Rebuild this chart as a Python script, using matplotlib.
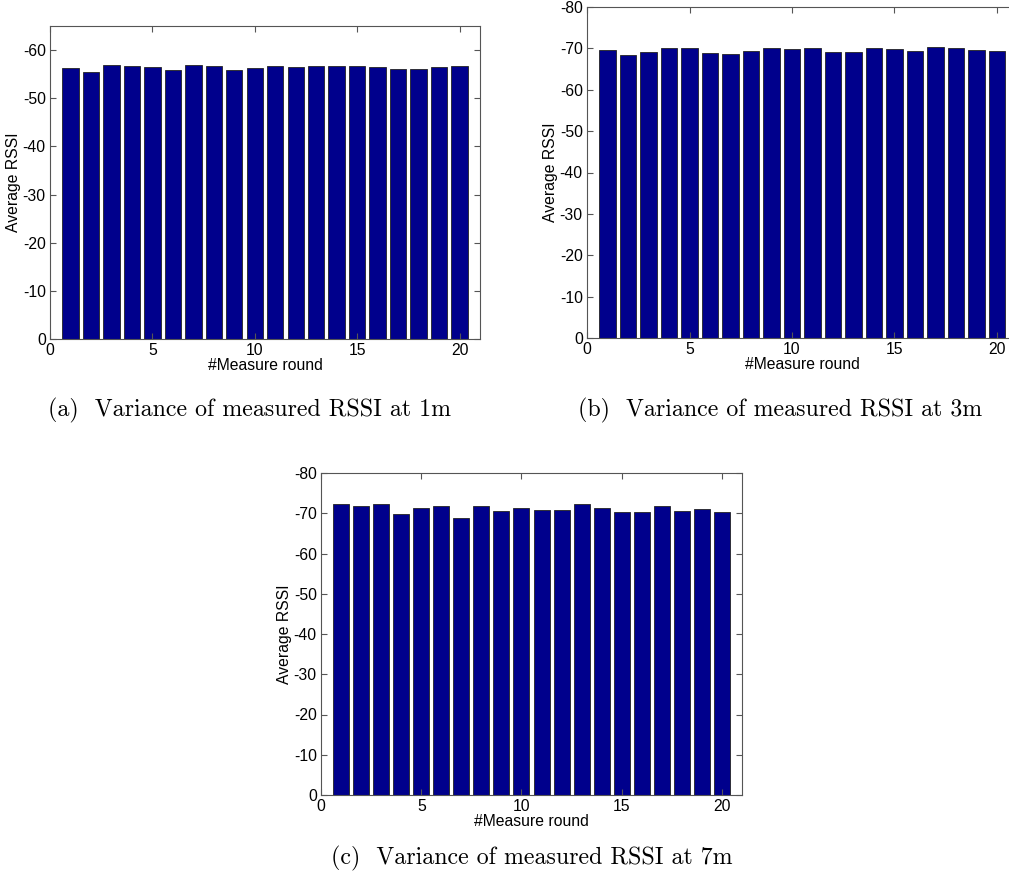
"""Average RSSI per measure round at 1m, 3m and 7m (bar charts)."""

import matplotlib
matplotlib.use("Agg")
from matplotlib import pyplot as plt

rounds = list(range(1, 21))

rssi_1m = [-56.25, -55.35, -57.0, -56.7, -56.45, -55.8, -56.9, -56.7, -55.8, -56.25,
           -56.6, -56.45, -56.7, -56.7, -56.6, -56.45, -56.0, -56.1, -56.45, -56.7]
rssi_3m = [-69.7, -68.5, -69.1, -70.0, -70.0, -68.8, -68.6, -69.3, -70.0, -69.8,
           -70.0, -69.1, -69.1, -70.0, -69.8, -69.3, -70.3, -70.0, -69.7, -69.3]
rssi_7m = [-72.3, -71.8, -72.3, -69.75, -71.2, -71.8, -68.9, -71.8, -70.6, -71.3,
           -70.8, -70.8, -72.3, -71.2, -70.4, -70.25, -71.8, -70.6, -71.0, -70.4]

captions = ["(a)  Variance of measured RSSI at 1m",
            "(b)  Variance of measured RSSI at 3m",
            "(c)  Variance of measured RSSI at 7m"]

plt.rcParams["axes.unicode_minus"] = False
plt.rcParams["font.family"] = ["Liberation Sans", "DejaVu Sans"]

BAR_COLOR = "#00008c"
SPINE_COLOR = "#555555"
FS = 11.3


def draw_panel(fig, rect, values, ymin, yticks):
    ax = fig.add_axes(rect)
    ax.bar(rounds, values, width=0.8, color=BAR_COLOR,
           edgecolor="#222222", linewidth=0.6)
    ax.set_xlim(0, 21)
    ax.set_ylim(0, ymin)
    ax.set_xticks([0, 5, 10, 15, 20])
    ax.set_yticks(yticks)
    ax.tick_params(direction="in", top=True, right=True, length=4,
                   labelsize=FS, color=SPINE_COLOR, width=0.8, pad=3)
    for spine in ax.spines.values():
        spine.set_color(SPINE_COLOR)
        spine.set_linewidth(0.8)
    ax.set_xlabel("#Measure round", fontsize=FS, labelpad=0)
    ax.set_ylabel("Average RSSI", fontsize=FS, labelpad=1)
    return ax


def main():
    fig = plt.figure(figsize=(10.09, 8.86), dpi=100)
    W, H = 1009.0, 886.0

    draw_panel(fig, [50 / W, (H - 339) / H, 430 / W, 313 / H],
               rssi_1m, -65, list(range(0, -61, -10)))
    draw_panel(fig, [587 / W, (H - 338) / H, 430.5 / W, 331 / H],
               rssi_3m, -80, list(range(0, -81, -10)))
    draw_panel(fig, [321 / W, (H - 795) / H, 421 / W, 322 / H],
               rssi_7m, -80, list(range(0, -81, -10)))

    cap_kw = dict(fontsize=17.2, fontfamily="cmr10", ha="center", va="center")
    fig.text(250 / W, 1 - 410 / H, captions[0], **cap_kw)
    fig.text(780 / W, 1 - 410 / H, captions[1], **cap_kw)
    fig.text(532 / W, 1 - 858 / H, captions[2], **cap_kw)

    fig.savefig("out.png", dpi=100)
    plt.close(fig)


if __name__ == "__main__":
    main()
